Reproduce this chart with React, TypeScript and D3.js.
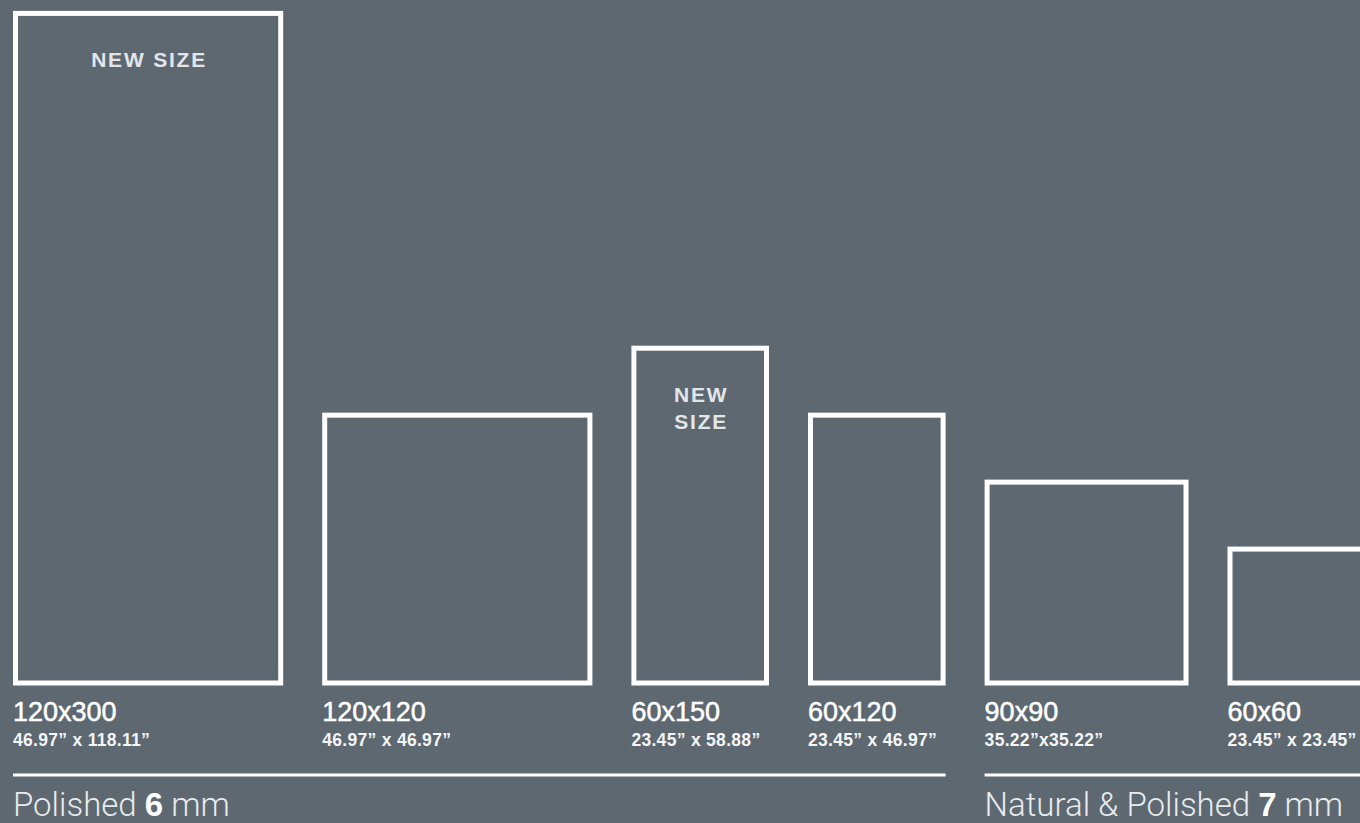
import React from "react";
import * as d3 from "d3";

// ---- data ----
const sizeLabels = ["120x300", "120x120", "60x150", "60x120", "90x90", "60x60"];
const widthsCm = [120, 120, 60, 60, 90, 60];
const heightsCm = [300, 120, 150, 120, 90, 60];
const inchLabels = [
  "46.97\u201D x 118.11\u201D",
  "46.97\u201D x 46.97\u201D",
  "23.45\u201D x 58.88\u201D",
  "23.45\u201D x 46.97\u201D",
  "35.22\u201Dx35.22\u201D",
  "23.45\u201D x 23.45\u201D",
];
const newSizeLines: string[][] = [["NEW SIZE"], [], ["NEW", "SIZE"], [], [], []];
const groupNames = ["Polished", "Natural & Polished"];
const groupThickness = ["6", "7"];
const groupUnit = "mm";
const groupFirst = [0, 4];
const groupLast = [3, 5];

// ---- layout ----
const W = 1360;
const H = 823;
const BG = "#5d6871";
const SW = 5;
const GAP = 39;
const LEFT = 13;
const BOTTOM = 685.5;
const HELV = "'Liberation Sans', Arial, Helvetica, sans-serif";
const LIGHT = "Roboto, 'Liberation Sans', sans-serif";

export default function App() {
  const wScale = d3.scaleLinear().domain([0, 120]).range([0, 120 * 2.21]);
  const hScale = d3.scaleLinear().domain([0, 300]).range([0, 300 * 2.232]);

  const lefts: number[] = [];
  let cur = LEFT;
  widthsCm.forEach((w) => {
    lefts.push(cur);
    cur += wScale(w) + SW + GAP;
  });

  const tiles = sizeLabels.map((label, i) => {
    const w = wScale(widthsCm[i]);
    const h = hScale(heightsCm[i]);
    const x = lefts[i] + SW / 2;
    const y = BOTTOM - SW / 2 - h;
    return { label, inch: inchLabels[i], w, h, x, y, outerLeft: lefts[i], lines: newSizeLines[i] };
  });

  return (
    <svg
      width={W}
      height={H}
      viewBox={`0 0 ${W} ${H}`}
      style={{ position: "absolute", left: 0, top: 0, display: "block" }}
    >
      <rect x={0} y={0} width={W} height={H} fill={BG} />
      {tiles.map((t, i) => (
        <g key={i}>
          <rect x={t.x} y={t.y} width={t.w} height={t.h} fill="none" stroke="#ffffff" strokeWidth={SW} />
          {t.lines.map((ln, j) => (
            <text
              key={j}
              x={t.x + t.w / 2 + 1}
              y={t.y - SW / 2 + 56 + j * 27}
              textAnchor="middle"
              fill="#e3e6e9"
              fontFamily={HELV}
              fontWeight={700}
              fontSize={21}
              letterSpacing={1.8}
            >
              {ln}
            </text>
          ))}
          <text
            x={t.outerLeft}
            y={721}
            fill="#ffffff"
            stroke="#ffffff"
            strokeWidth={0.5}
            fontFamily={HELV}
            fontWeight={400}
            fontSize={27}
          >
            {t.label}
          </text>
          <text
            x={t.outerLeft}
            y={746}
            fill="#f4f5f6"
            fontFamily={HELV}
            fontWeight={700}
            fontSize={17.5}
            letterSpacing={0.3}
          >
            {t.inch}
          </text>
        </g>
      ))}
      {groupNames.map((g, gi) => {
        const x1 = tiles[groupFirst[gi]].outerLeft;
        const last = tiles[groupLast[gi]];
        const x2 = last.outerLeft + last.w + SW;
        return (
          <g key={gi}>
            <line x1={x1} x2={x2} y1={775} y2={775} stroke="#ffffff" strokeWidth={3} />
            <text x={x1} y={816} fill="#e9ebed" fontFamily={LIGHT} fontSize={33}>
              <tspan fontWeight={300}>{g} </tspan>
              <tspan fontWeight={700} fill="#ffffff" fontFamily={HELV}>{groupThickness[gi]}</tspan>
              <tspan fontWeight={300}> {groupUnit}</tspan>
            </text>
          </g>
        );
      })}
    </svg>
  );
}
